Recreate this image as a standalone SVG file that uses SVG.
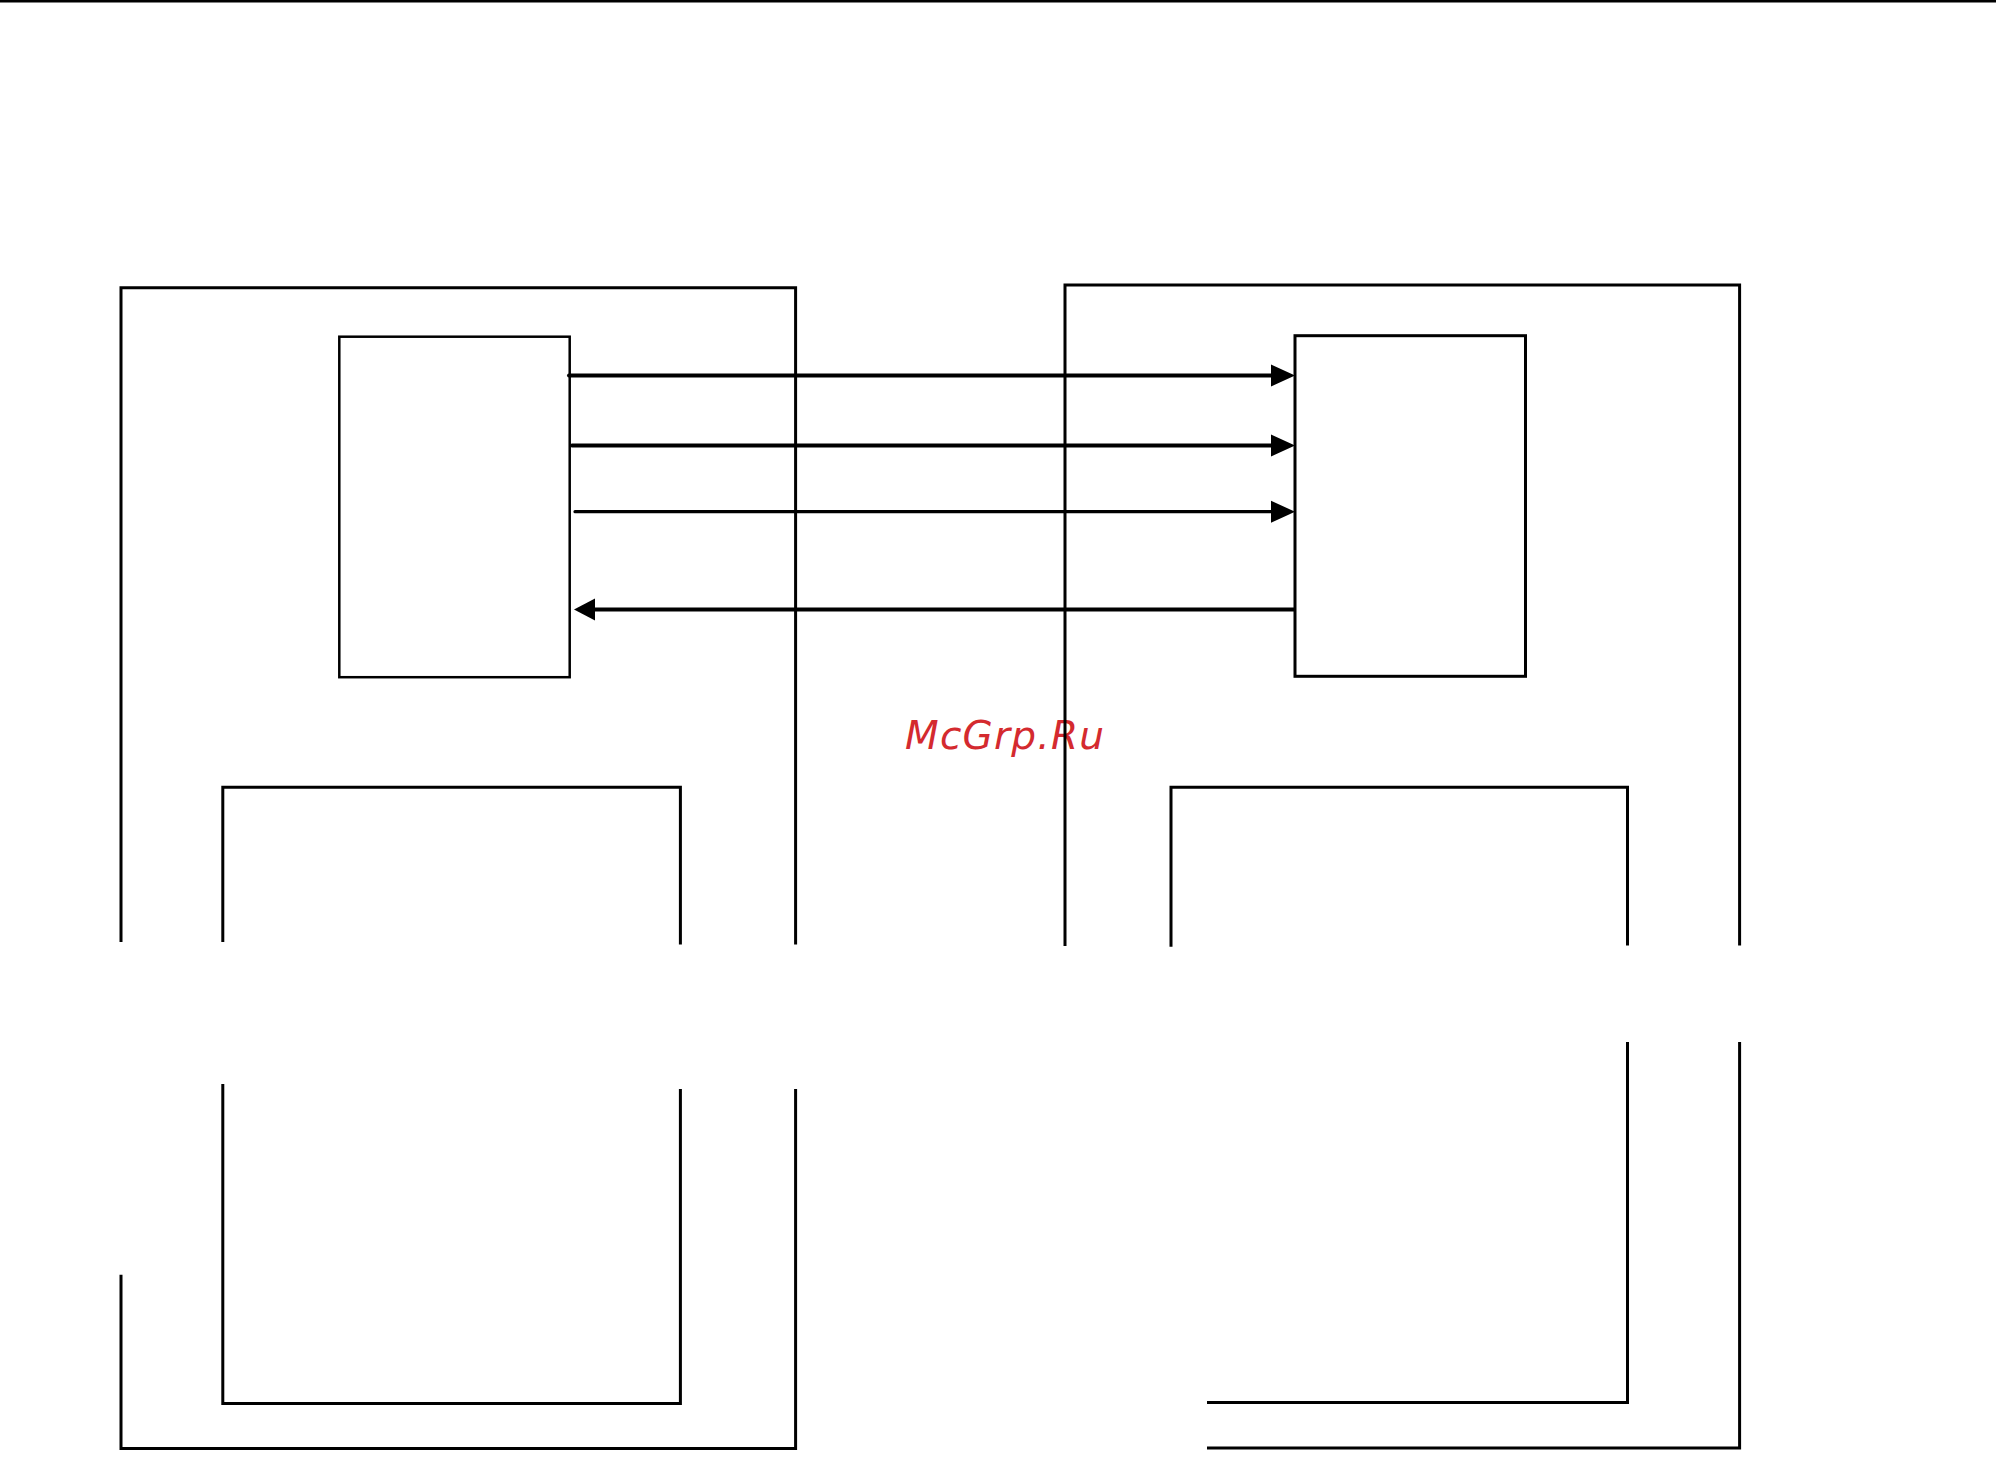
<svg xmlns="http://www.w3.org/2000/svg" width="1996" height="1468" viewBox="0 0 1996 1468">
<style>
.frame{fill:none;stroke:#000;stroke-width:3;stroke-linecap:butt;stroke-linejoin:miter}
.box{fill:none;stroke:#000;stroke-width:2.5}
.conn{stroke:#000;stroke-linecap:round;fill:none}
.head{fill:#000;stroke:none}
.wm{font-family:"DejaVu Sans",sans-serif;font-style:italic;font-size:39px;fill:#d42a2f}
</style>
<rect x="0" y="0" width="1996" height="1468" fill="#fff"/>
<line x1="0" y1="1" x2="1996" y2="1" stroke="#000" stroke-width="2.8"/>
<text class="wm" x="905" y="749" textLength="199" lengthAdjust="spacing">McGrp.Ru</text>
<g id="left-outer">
<path class="frame" d="M121,942 V287.7 H795.6 V944.6"/>
<path class="frame" d="M121,1274.7 V1448.6 H795.6 V1089"/>
</g>
<g id="left-top-block">
<rect class="box" x="339.3" y="336.7" width="230.4" height="340.5"/>
</g>
<g id="left-bottom-block">
<path class="frame" d="M222.8,942 V787.3 H680.4 V944.6"/>
<path class="frame" d="M222.8,1084 V1403.5 H680.4 V1089"/>
</g>
<g id="right-outer">
<path class="frame" d="M1065,946 V285 H1739.6 V945.6"/>
<path class="frame" d="M1739.6,1042 V1448 H1207"/>
</g>
<g id="right-top-block">
<rect class="frame" x="1295" y="335.7" width="230.5" height="340.6"/>
</g>
<g id="right-bottom-block">
<path class="frame" d="M1171,946.7 V787.3 H1627.5 V945.6"/>
<path class="frame" d="M1627.5,1042 V1402.5 H1207"/>
</g>
<g id="connectors">
<line class="conn" x1="569" y1="375.5" x2="1273" y2="375.5" stroke-width="4"/>
<polygon class="head" points="1271,364.5 1295,375.5 1271,386.5"/>
<line class="conn" x1="572" y1="445.5" x2="1273" y2="445.5" stroke-width="4"/>
<polygon class="head" points="1271,434.5 1295,445.5 1271,456.5"/>
<line class="conn" x1="575" y1="511.7" x2="1273" y2="511.7" stroke-width="3.2"/>
<polygon class="head" points="1271,500.7 1295,511.7 1271,522.7"/>
<line x1="1295" y1="609.5" x2="592" y2="609.5" stroke="#000" stroke-width="3.8"/>
<polygon class="head" points="595,598.5 574,609.5 595,620.5"/>
</g>
</svg>
